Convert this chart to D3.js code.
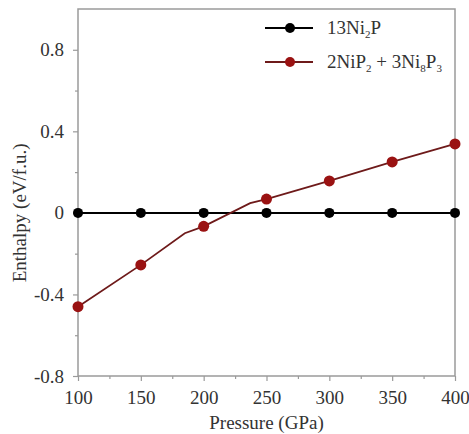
<!DOCTYPE html>
<html>
<head>
<meta charset="utf-8">
<script src="https://cdn.jsdelivr.net/npm/d3@7"></script>
<style>
  body { margin: 0; background: #fff; }
  text { font-family: "Liberation Serif", "Times New Roman", serif; fill: #333; }
</style>
</head>
<body>
<svg id="chart"></svg>
<script>
// pressure points (GPa)
const pressures = [100, 150, 200, 250, 300, 350, 400];
// 13Ni2P reference enthalpy
const ni2pValues = [0, 0, 0, 0, 0, 0, 0];
// 2NiP2 + 3Ni8P3, marker points
const mixValues = [-0.46, -0.255, -0.066, 0.068, 0.157, 0.25, 0.338];
// extra line points without markers
const mixLinePressures = [100, 150, 185, 200, 237, 250, 300, 350, 400];
const mixLineValues = [-0.46, -0.255, -0.10, -0.066, 0.048, 0.068, 0.157, 0.25, 0.338];

const xTicks = [100, 150, 200, 250, 300, 350, 400];
const yTicks = [-0.8, -0.4, 0, 0.4, 0.8];
const yTickLabels = ['-0.8', '-0.4', '0', '0.4', '0.8'];
const seriesNames = ['13Ni|2|P', '2NiP|2| + 3Ni|8|P|3|'];

const width = 469, height = 434;
const margin = {top: 9, right: 14, bottom: 58, left: 78};
const innerW = width - margin.left - margin.right;
const innerH = height - margin.top - margin.bottom;

const svg = d3.select('#chart').attr('width', width).attr('height', height);
const chart = svg.append('g').attr('transform', `translate(${margin.left}, ${margin.top})`);

const xscale = d3.scaleLinear().domain([100, 400]).range([0, innerW]);
const yscale = d3.scaleLinear().domain([-0.8, 1.0]).range([innerH, 0]);

const axisColor = '#9a9a9a';

// frame
chart.append('rect')
    .attr('width', innerW).attr('height', innerH)
    .attr('fill', 'none').attr('stroke', axisColor).attr('stroke-width', 1.5);

// minor ticks
chart.append('g')
    .attr('transform', `translate(0, ${innerH})`)
    .call(d3.axisBottom(xscale).tickValues(d3.range(125, 400, 50)).tickSize(3).tickFormat(''))
    .call(g => g.select('.domain').remove())
    .call(g => g.selectAll('line').attr('stroke', axisColor).attr('stroke-width', 1.2));
chart.append('g')
    .call(d3.axisLeft(yscale).tickValues([-0.6, -0.2, 0.2, 0.6]).tickSize(3).tickFormat(''))
    .call(g => g.select('.domain').remove())
    .call(g => g.selectAll('line').attr('stroke', axisColor).attr('stroke-width', 1.2));

// major axes
chart.append('g')
    .attr('transform', `translate(0, ${innerH})`)
    .call(d3.axisBottom(xscale).tickValues(xTicks).tickSize(5).tickPadding(10))
    .call(g => g.select('.domain').remove())
    .call(g => g.selectAll('line').attr('stroke', axisColor).attr('stroke-width', 1.2))
    .call(g => g.selectAll('text').attr('font-size', 19).attr('fill', '#333')
        .attr('font-family', '"Liberation Serif", serif'));

chart.append('g')
    .call(d3.axisLeft(yscale).tickValues(yTicks).tickSize(5).tickPadding(9)
        .tickFormat((d, i) => yTickLabels[i]))
    .call(g => g.select('.domain').remove())
    .call(g => g.selectAll('line').attr('stroke', axisColor).attr('stroke-width', 1.2))
    .call(g => g.selectAll('text').attr('font-size', 19).attr('fill', '#333')
        .attr('font-family', '"Liberation Serif", serif'));

// axis titles
svg.append('text')
    .attr('x', margin.left + innerW / 2).attr('y', 429)
    .attr('text-anchor', 'middle').attr('font-size', 19)
    .text('Pressure (GPa)');
svg.append('text')
    .attr('transform', `translate(26, ${margin.top + yscale(0)}) rotate(-90)`)
    .attr('text-anchor', 'middle').attr('font-size', 19)
    .text('Enthalpy (eV/f.u.)');

const line = d3.line().x(d => xscale(d[0])).y(d => yscale(d[1]));

const black = '#000000';
const red = '#9a1212';

// black series
chart.append('path')
    .attr('d', line(pressures.map((p, i) => [p, ni2pValues[i]])))
    .attr('stroke', black).attr('stroke-width', 2).attr('fill', 'none');
chart.selectAll('.pt-black')
    .data(pressures.map((p, i) => [p, ni2pValues[i]]))
    .join('circle')
    .attr('cx', d => xscale(d[0])).attr('cy', d => yscale(d[1]))
    .attr('r', 5).attr('fill', black);

// red series
chart.append('path')
    .attr('d', line(mixLinePressures.map((p, i) => [p, mixLineValues[i]])))
    .attr('stroke', '#6e1a1a').attr('stroke-width', 1.8).attr('fill', 'none');
chart.selectAll('.pt-red')
    .data(pressures.map((p, i) => [p, mixValues[i]]))
    .join('circle')
    .attr('cx', d => xscale(d[0])).attr('cy', d => yscale(d[1]))
    .attr('r', 5.5).attr('fill', red);

// legend
const legend = svg.append('g');
const legendColors = [black, red];
const legendLines = [black, '#6e1a1a'];
seriesNames.forEach((name, i) => {
    const y = 28 + i * 34;
    legend.append('line')
        .attr('x1', 265).attr('x2', 313).attr('y1', y).attr('y2', y)
        .attr('stroke', legendLines[i]).attr('stroke-width', 2);
    legend.append('circle')
        .attr('cx', 290).attr('cy', y).attr('r', 5).attr('fill', legendColors[i]);
    const t = legend.append('text')
        .attr('x', 327).attr('y', y + 6).attr('font-size', 19);
    name.split('|').forEach((part, j) => {
        if (!part) return;
        const sub = j % 2 === 1;
        t.append('tspan')
            .attr('font-size', sub ? 11 : 19)
            .attr('dy', sub ? 4 : (j > 0 ? -4 : 0))
            .text(part);
    });
});
</script>
</body>
</html>
